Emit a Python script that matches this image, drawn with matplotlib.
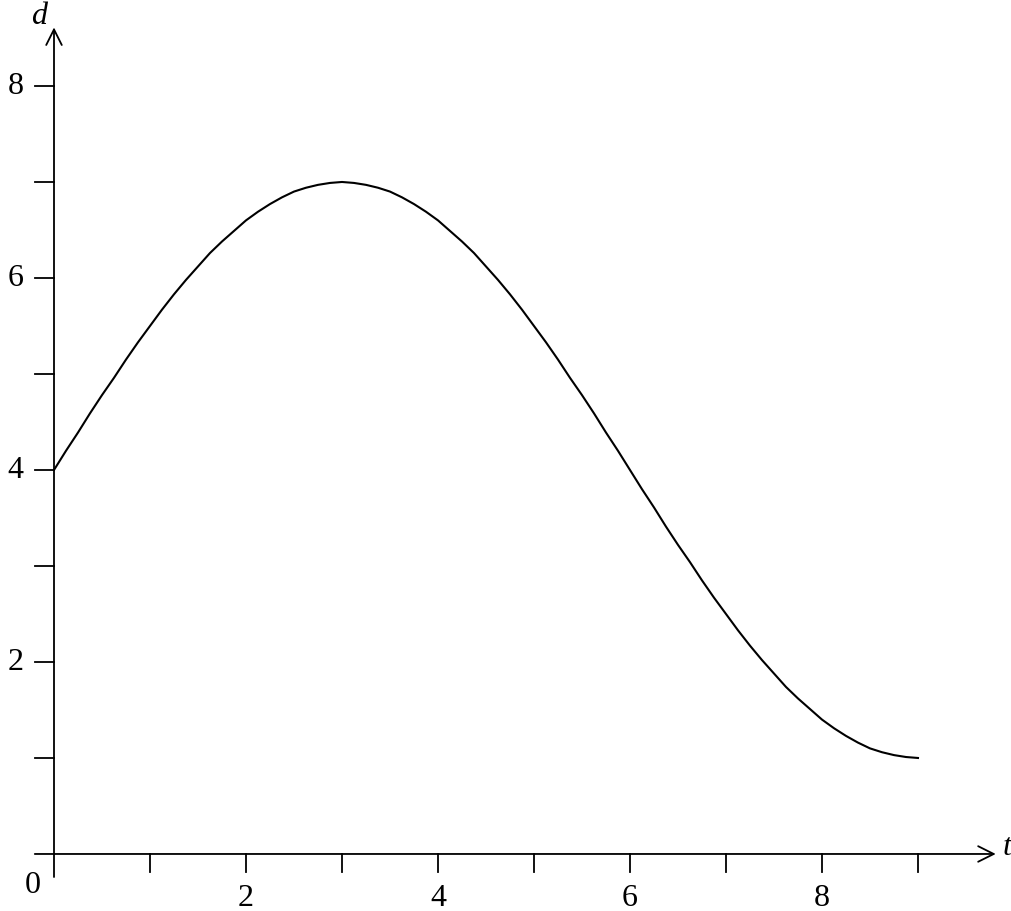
import matplotlib
matplotlib.use("Agg")
import matplotlib.pyplot as plt

# curve values (t step 0.125)
t = [i * 0.125 for i in range(73)]
d = [4.00, 4.20, 4.39, 4.59, 4.78, 4.96, 5.15, 5.33,
     5.50, 5.67, 5.83, 5.98, 6.12, 6.26, 6.38, 6.49,
     6.60, 6.69, 6.77, 6.84, 6.90, 6.94, 6.97, 6.99,
     7.00, 6.99, 6.97, 6.94, 6.90, 6.84, 6.77, 6.69,
     6.60, 6.49, 6.38, 6.26, 6.12, 5.98, 5.83, 5.67,
     5.50, 5.33, 5.15, 4.96, 4.78, 4.59, 4.39, 4.20,
     4.00, 3.80, 3.61, 3.41, 3.22, 3.04, 2.85, 2.67,
     2.50, 2.33, 2.17, 2.02, 1.88, 1.74, 1.62, 1.51,
     1.40, 1.31, 1.23, 1.16, 1.10, 1.06, 1.03, 1.01,
     1.00]

x_ticks = [1, 2, 3, 4, 5, 6, 7, 8, 9]
x_labels = ["2", "4", "6", "8"]
y_ticks = [1, 2, 3, 4, 5, 6, 7, 8]
y_labels = ["2", "4", "6", "8"]

plt.rcParams['font.family'] = ['Liberation Serif', 'DejaVu Serif']

fig = plt.figure(figsize=(10.11, 9.12), dpi=100)
ax = fig.add_axes([0, 0, 1, 1])
ax.set_xlim(-0.5625, 9.969)
ax.set_ylim(-0.594, 8.906)
ax.axis('off')

# axes with arrows
arrow = dict(arrowstyle='->', lw=1.3, color='black', shrinkA=0, shrinkB=0,
             mutation_scale=28)
ax.annotate('', xy=(9.81, 0), xytext=(-0.2, 0), arrowprops=arrow)
ax.annotate('', xy=(0, 8.61), xytext=(0, -0.24), arrowprops=arrow)

# tick marks
for xt in x_ticks:
    ax.plot([xt, xt], [0, -0.19], color='black', lw=1.3)
for yt in y_ticks:
    ax.plot([-0.2, 0], [yt, yt], color='black', lw=1.3)

# tick labels
for lab in x_labels:
    ax.text(float(lab), -0.45, lab, fontsize=23, ha='center', va='center')
for lab in y_labels:
    ax.text(-0.40, float(lab), lab, fontsize=23, ha='center', va='center')
ax.text(-0.22, -0.32, "0", fontsize=23, ha='center', va='center')

ax.text(9.97, 0.08, "t", fontsize=23, style='italic', ha='right', va='center')
ax.text(-0.16, 8.73, "d", fontsize=23, style='italic', ha='center', va='center')

ax.plot(t, d, color='black', lw=1.5)

fig.savefig("out.png", dpi=100)
